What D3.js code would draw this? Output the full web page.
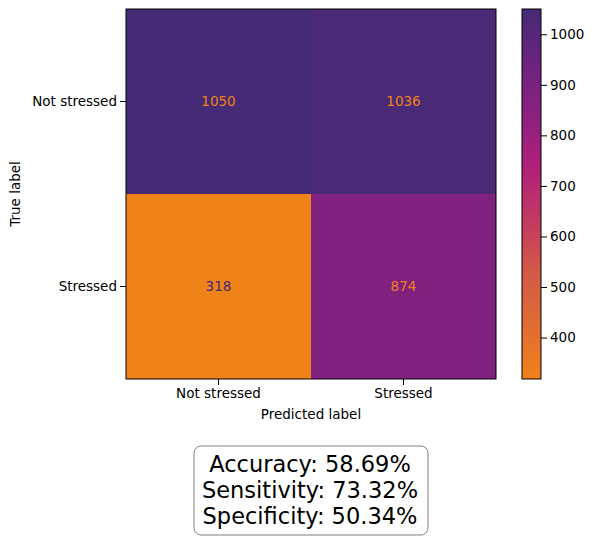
<!DOCTYPE html><html><head><script src="https://d3js.org/d3.v7.min.js"></script>
<style>body{margin:0;background:#fff}text{font-family:"DejaVu Sans",sans-serif}</style></head><body>
<svg id="c" width="594" height="539"></svg>
<script>
const labels=["Not stressed","Stressed"];
const matrix=[[1050,1036],[318,874]];
const cbTicks=[400,500,600,700,800,900,1000];
const stats=["Accuracy: 58.69%","Sensitivity: 73.32%","Specificity: 50.34%"];
const vmin=318,vmax=1050;
const stops=["#f0821a","#e06c33","#d35a45","#c33a62","#b0207a","#8c207f","#6a2380","#452a75"];
const color=d3.scaleLinear().domain(d3.range(stops.length).map(i=>vmin+(vmax-vmin)*i/(stops.length-1))).range(stops);
const svg=d3.select("#c");
const L=126,R=496,T=9,B=379,FS=13.5;
const x=d3.scaleBand().domain([0,1]).range([L,R]);
const y=d3.scaleBand().domain([0,1]).range([T,B]);
matrix.forEach((row,i)=>row.forEach((v,j)=>{
 svg.append("rect").attr("x",x(j)).attr("y",y(i)).attr("width",x.bandwidth()).attr("height",y.bandwidth()).attr("fill",color(v));
 svg.append("text").attr("x",x(j)+x.bandwidth()/2).attr("y",y(i)+y.bandwidth()/2).attr("dy","0.35em").attr("text-anchor","middle").attr("font-size",FS)
  .attr("fill",v>(vmin+vmax)/2?"#f0821a":"#452a75").text(v);
}));
svg.append("rect").attr("x",L).attr("y",T).attr("width",R-L).attr("height",B-T).attr("fill","none").attr("stroke","#000");
const xa=svg.append("g").attr("transform",`translate(0,${B})`).call(d3.axisBottom(x).tickFormat(i=>labels[i]).tickSizeOuter(0));
const ya=svg.append("g").attr("transform",`translate(${L},0)`).call(d3.axisLeft(y).tickFormat(i=>labels[i]).tickSizeOuter(0));
[xa,ya].forEach(a=>{a.select(".domain").remove();a.selectAll("text").attr("font-size",FS).attr("font-family","DejaVu Sans").attr("fill","#000");a.selectAll("line").attr("stroke","#000");});
svg.append("text").attr("x",(L+R)/2).attr("y",419).attr("text-anchor","middle").attr("font-size",FS).text("Predicted label");
svg.append("text").attr("transform",`translate(20,${(T+B)/2}) rotate(-90)`).attr("text-anchor","middle").attr("font-size",FS).text("True label");
const cx=522,cw=19;
const cy=d3.scaleLinear().domain([vmin,vmax]).range([B,T]);
const defs=svg.append("defs");const g=defs.append("linearGradient").attr("id","g").attr("x1",0).attr("x2",0).attr("y1",1).attr("y2",0);
stops.forEach((s,i)=>g.append("stop").attr("offset",i/(stops.length-1)).attr("stop-color",s));
svg.append("rect").attr("x",cx).attr("y",T).attr("width",cw).attr("height",B-T).attr("fill","url(#g)").attr("stroke","#000");
const ca=svg.append("g").attr("transform",`translate(${cx+cw},0)`).call(d3.axisRight(cy).tickValues(cbTicks).tickFormat(d3.format("d")).tickSizeOuter(0));
ca.select(".domain").remove();ca.selectAll("text").attr("font-size",FS).attr("font-family","DejaVu Sans").attr("fill","#000");
svg.append("rect").attr("x",194).attr("y",446).attr("width",234).attr("height",89).attr("rx",7).attr("fill","#fff").attr("stroke","#808080");
stats.forEach((s,i)=>svg.append("text").attr("x",310).attr("y",472+i*26).attr("text-anchor","middle").attr("font-size",22.5).text(s));
</script></body></html>
